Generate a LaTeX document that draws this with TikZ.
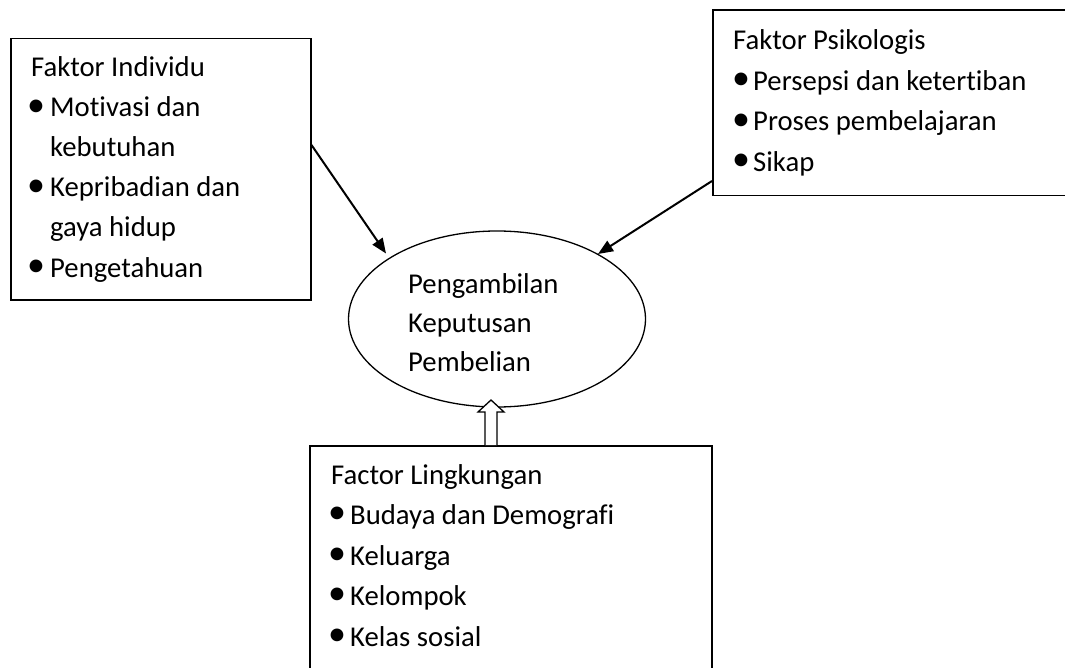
\documentclass[tikz,border=0pt]{standalone}
\usepackage{fontspec}
\setmainfont{Carlito}[Ligatures={NoCommon}]
\usetikzlibrary{arrows.meta,shapes.geometric}
\begin{document}
\begin{tikzpicture}[x=1pt,y=-1pt,
  box/.style={draw, line width=1.5pt, inner sep=0pt, anchor=north west, rectangle},
  txt/.style={anchor=base west, inner sep=0pt, font=\fontsize{28.7}{34}\selectfont},
  bul/.style={anchor=center, inner sep=0pt, font=\fontsize{36}{36}\selectfont},
  arr/.style={line width=2pt, -{Triangle[length=15pt,width=12pt]}},
  hollow/.style={draw, line width=1.3pt, fill=white, line join=miter}]
\useasboundingbox (0,0) rectangle (1065,668);
\clip (0,0) rectangle (1065,668);
\fill[white] (0,0) rectangle (1065,668);

% boxes
\node[box, minimum width=300pt, minimum height=261pt] (ind) at (10,38) {};
\node[box, minimum width=400pt, minimum height=185.5pt] (psy) at (712,9.5) {};
\node[box, minimum width=402pt, minimum height=300pt] (env) at (309,445) {};
\node[draw, ellipse, line width=1.3pt, inner sep=0pt, minimum width=297pt, minimum height=176pt] (ell) at (497,319) {};

% left box text
\node[txt] (i0) at (31,77) {Faktor Individu};
\node[bul] (ib1) at (36,108) {•};
\node[txt] (i1) at (50,117) {Motivasi dan};
\node[txt] (i2) at (50,157) {kebutuhan};
\node[bul] (ib3) at (36,188) {•};
\node[txt] (i3) at (50,197) {Kepribadian dan};
\node[txt] (i4) at (50,237) {gaya hidup};
\node[bul] (ib5) at (36,268) {•};
\node[txt] (i5) at (50,277) {Pengetahuan};

% right box text
\node[txt] (p0) at (733,50) {Faktor Psikologis};
\node[bul] (pb1) at (741,81.5) {•};
\node[txt] (p1) at (753,90.5) {Persepsi dan ketertiban};
\node[bul] (pb2) at (741,122) {•};
\node[txt] (p2) at (753,131) {Proses pembelajaran};
\node[bul] (pb3) at (741,162.5) {•};
\node[txt] (p3) at (753,171.5) {Sikap};

% ellipse text
\node[txt] (e1) at (408,294) {Pengambilan};
\node[txt] (e2) at (408,332.5) {Keputusan};
\node[txt] (e3) at (408,371) {Pembelian};

% bottom box text
\node[txt] (b0) at (331,484) {Factor Lingkungan};
\node[bul] (bb1) at (337,515.5) {•};
\node[txt] (b1) at (350,524.5) {Budaya dan Demografi};
\node[bul] (bb2) at (337,556) {•};
\node[txt] (b2) at (350,565) {Keluarga};
\node[bul] (bb3) at (337,596.5) {•};
\node[txt] (b3) at (350,605.5) {Kelompok};
\node[bul] (bb4) at (337,637) {•};
\node[txt] (b4) at (350,646) {Kelas sosial};

% connectors
\coordinate (a1s) at (ind.north east |- 0,145);
\coordinate (a1e) at (386,253.5);
\coordinate (a2s) at (psy.north west |- 0,181);
\coordinate (a2e) at (598,254);
\draw[arr] (a1s) -- (a1e);
\draw[arr] (a2s) -- (a2e);

\coordinate (hb) at (env.north west -| 491,0);
\draw[hollow] (hb) ++(-6,0) -- ++(0,-33) -- ++(-7,0) -- ++(13,-12) -- ++(13,12) -- ++(-7,0) -- ++(0,33);
\end{tikzpicture}
\end{document}
